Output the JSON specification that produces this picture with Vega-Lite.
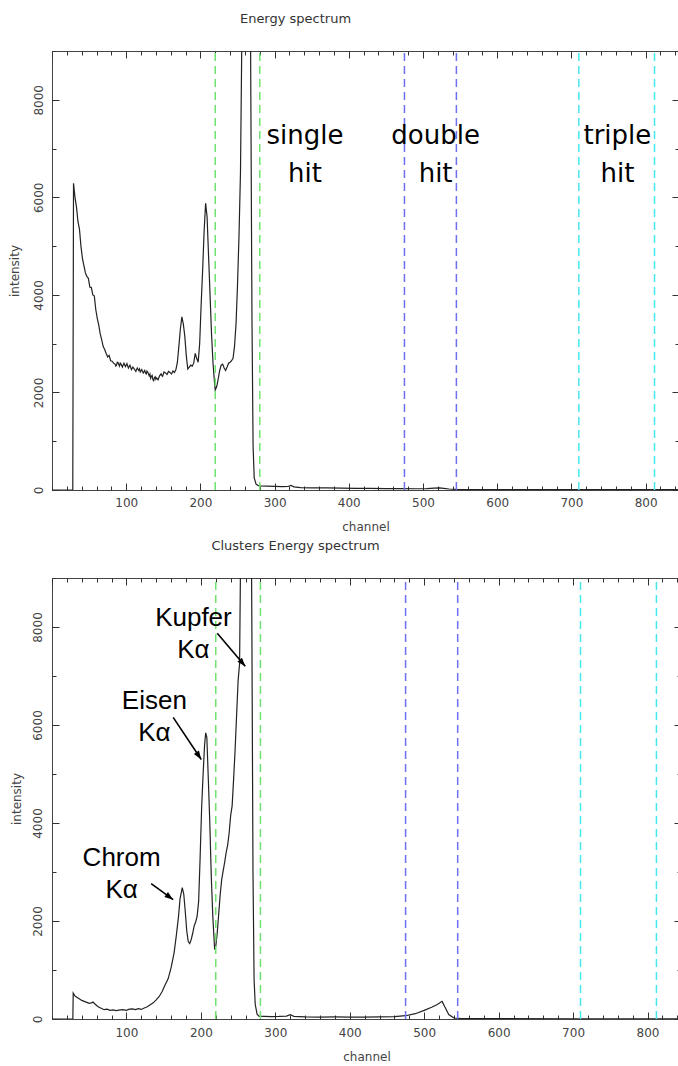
{
  "$schema": "https://vega.github.io/schema/vega-lite/v6.json",
  "background": "white",
  "padding": {"top": 12, "left": 7, "right": 0, "bottom": 0},
  "spacing": 6,
  "config": {
    "view": {"stroke": "#444", "strokeWidth": 1},
    "axis": {
      "grid": false, "domain": false,
      "labelFont": "DejaVu Sans", "labelFontSize": 12, "labelColor": "#444",
      "titleFont": "DejaVu Sans", "titleFontSize": 12, "titleFontWeight": "normal", "titleColor": "#444",
      "tickColor": "#333", "tickWidth": 1, "format": "d"
    },
    "title": {"font": "DejaVu Sans", "fontSize": 13, "fontWeight": "normal", "color": "#333", "anchor": "middle", "offset": 24}
  },
  "datasets": {
    "single": [
      {"ch": 0, "v": 0}, {"ch": 28, "v": 0}, {"ch": 29, "v": 6290}, {"ch": 31, "v": 6000}, {"ch": 33, "v": 5800},
      {"ch": 35, "v": 5500}, {"ch": 37, "v": 5350}, {"ch": 39, "v": 5000}, {"ch": 41, "v": 4750}, {"ch": 43, "v": 4600},
      {"ch": 45, "v": 4450}, {"ch": 47, "v": 4380}, {"ch": 49, "v": 4340}, {"ch": 51, "v": 4160}, {"ch": 53, "v": 4150},
      {"ch": 55, "v": 4000}, {"ch": 57, "v": 3980}, {"ch": 59, "v": 3700}, {"ch": 61, "v": 3520}, {"ch": 63, "v": 3380},
      {"ch": 65, "v": 3200}, {"ch": 67, "v": 3080}, {"ch": 69, "v": 2940}, {"ch": 71, "v": 2880}, {"ch": 73, "v": 2800},
      {"ch": 75, "v": 2730}, {"ch": 77, "v": 2760}, {"ch": 79, "v": 2650}, {"ch": 81, "v": 2640}, {"ch": 83, "v": 2600},
      {"ch": 85, "v": 2580}, {"ch": 86, "v": 2540}, {"ch": 87, "v": 2560}, {"ch": 88, "v": 2620}, {"ch": 89, "v": 2610}, {"ch": 91, "v": 2540}, {"ch": 92, "v": 2600}, {"ch": 93, "v": 2580},
      {"ch": 95, "v": 2520}, {"ch": 96, "v": 2570}, {"ch": 97, "v": 2600}, {"ch": 98, "v": 2560}, {"ch": 99, "v": 2530}, {"ch": 101, "v": 2590}, {"ch": 102, "v": 2540}, {"ch": 103, "v": 2500},
      {"ch": 105, "v": 2560}, {"ch": 106, "v": 2520}, {"ch": 107, "v": 2470}, {"ch": 109, "v": 2520}, {"ch": 110, "v": 2500}, {"ch": 111, "v": 2480}, {"ch": 113, "v": 2430},
      {"ch": 114, "v": 2470}, {"ch": 115, "v": 2500}, {"ch": 117, "v": 2450}, {"ch": 118, "v": 2480}, {"ch": 119, "v": 2420}, {"ch": 121, "v": 2470}, {"ch": 122, "v": 2430}, {"ch": 123, "v": 2400},
      {"ch": 125, "v": 2450}, {"ch": 126, "v": 2400}, {"ch": 127, "v": 2380}, {"ch": 128, "v": 2440}, {"ch": 129, "v": 2420}, {"ch": 131, "v": 2340}, {"ch": 132, "v": 2380}, {"ch": 133, "v": 2290},
      {"ch": 134, "v": 2330}, {"ch": 135, "v": 2350}, {"ch": 136, "v": 2260}, {"ch": 137, "v": 2240}, {"ch": 138, "v": 2300}, {"ch": 139, "v": 2320}, {"ch": 140, "v": 2270}, {"ch": 141, "v": 2300}, {"ch": 143, "v": 2260},
      {"ch": 145, "v": 2340}, {"ch": 147, "v": 2380}, {"ch": 148, "v": 2350}, {"ch": 149, "v": 2330}, {"ch": 151, "v": 2420}, {"ch": 153, "v": 2400},
      {"ch": 155, "v": 2370}, {"ch": 157, "v": 2430}, {"ch": 159, "v": 2410}, {"ch": 161, "v": 2380}, {"ch": 163, "v": 2440},
      {"ch": 165, "v": 2410}, {"ch": 167, "v": 2470}, {"ch": 169, "v": 2620}, {"ch": 171, "v": 2950}, {"ch": 173, "v": 3300},
      {"ch": 175, "v": 3550}, {"ch": 177, "v": 3400}, {"ch": 179, "v": 3150}, {"ch": 181, "v": 2750}, {"ch": 183, "v": 2480},
      {"ch": 185, "v": 2520}, {"ch": 187, "v": 2560}, {"ch": 189, "v": 2540}, {"ch": 191, "v": 2600}, {"ch": 193, "v": 2800},
      {"ch": 195, "v": 2700}, {"ch": 197, "v": 2620}, {"ch": 199, "v": 3000}, {"ch": 201, "v": 3800}, {"ch": 203, "v": 4500},
      {"ch": 205, "v": 5300}, {"ch": 207, "v": 5880}, {"ch": 209, "v": 5600}, {"ch": 211, "v": 4800}, {"ch": 213, "v": 4000},
      {"ch": 215, "v": 3200}, {"ch": 217, "v": 2600}, {"ch": 219, "v": 2200}, {"ch": 220, "v": 2050}, {"ch": 222, "v": 2120},
      {"ch": 224, "v": 2280}, {"ch": 226, "v": 2450}, {"ch": 228, "v": 2560}, {"ch": 230, "v": 2580}, {"ch": 232, "v": 2500},
      {"ch": 234, "v": 2450}, {"ch": 236, "v": 2520}, {"ch": 238, "v": 2600}, {"ch": 240, "v": 2620}, {"ch": 242, "v": 2650},
      {"ch": 244, "v": 2700}, {"ch": 246, "v": 2950}, {"ch": 248, "v": 3400}, {"ch": 250, "v": 4200}, {"ch": 252, "v": 5200},
      {"ch": 254, "v": 6500}, {"ch": 256, "v": 9500}, {"ch": 258, "v": 16000}, {"ch": 261, "v": 25000}, {"ch": 264, "v": 18000},
      {"ch": 266, "v": 14000}, {"ch": 268, "v": 8000}, {"ch": 269.5, "v": 3500}, {"ch": 271, "v": 900}, {"ch": 272.5, "v": 250},
      {"ch": 275, "v": 120}, {"ch": 278, "v": 90}, {"ch": 280, "v": 85}, {"ch": 290, "v": 80}, {"ch": 300, "v": 75},
      {"ch": 310, "v": 70}, {"ch": 318, "v": 72}, {"ch": 322, "v": 95}, {"ch": 326, "v": 65}, {"ch": 335, "v": 50},
      {"ch": 350, "v": 45}, {"ch": 370, "v": 42}, {"ch": 390, "v": 38}, {"ch": 410, "v": 35}, {"ch": 430, "v": 32},
      {"ch": 450, "v": 30}, {"ch": 470, "v": 28}, {"ch": 490, "v": 26}, {"ch": 505, "v": 30}, {"ch": 515, "v": 40},
      {"ch": 522, "v": 45}, {"ch": 528, "v": 35}, {"ch": 535, "v": 20}, {"ch": 545, "v": 12}, {"ch": 600, "v": 10},
      {"ch": 700, "v": 8}, {"ch": 845, "v": 6}
    ],
    "clusters": [
      {"ch": 0, "v": 0}, {"ch": 28, "v": 0}, {"ch": 28.5, "v": 530}, {"ch": 31, "v": 470}, {"ch": 35, "v": 430},
      {"ch": 40, "v": 380}, {"ch": 45, "v": 350}, {"ch": 50, "v": 320}, {"ch": 53, "v": 330}, {"ch": 55, "v": 345},
      {"ch": 58, "v": 300}, {"ch": 62, "v": 250}, {"ch": 66, "v": 220}, {"ch": 70, "v": 190}, {"ch": 74, "v": 200},
      {"ch": 78, "v": 175}, {"ch": 82, "v": 185}, {"ch": 86, "v": 170}, {"ch": 90, "v": 180}, {"ch": 95, "v": 190},
      {"ch": 100, "v": 175}, {"ch": 104, "v": 200}, {"ch": 108, "v": 205}, {"ch": 112, "v": 190}, {"ch": 116, "v": 210},
      {"ch": 120, "v": 195}, {"ch": 124, "v": 225}, {"ch": 128, "v": 250}, {"ch": 132, "v": 290}, {"ch": 136, "v": 330},
      {"ch": 140, "v": 390}, {"ch": 144, "v": 460}, {"ch": 148, "v": 560}, {"ch": 152, "v": 700}, {"ch": 156, "v": 820},
      {"ch": 160, "v": 1050}, {"ch": 164, "v": 1350}, {"ch": 167, "v": 1700}, {"ch": 170, "v": 2100}, {"ch": 172, "v": 2450},
      {"ch": 175, "v": 2680}, {"ch": 177, "v": 2550}, {"ch": 179, "v": 2200}, {"ch": 181, "v": 1800}, {"ch": 183, "v": 1580},
      {"ch": 185, "v": 1540}, {"ch": 187, "v": 1620}, {"ch": 189, "v": 1750}, {"ch": 191, "v": 1900}, {"ch": 193, "v": 1980},
      {"ch": 195, "v": 2100}, {"ch": 197, "v": 2400}, {"ch": 199, "v": 3300}, {"ch": 201, "v": 4300}, {"ch": 203, "v": 5000},
      {"ch": 205, "v": 5600}, {"ch": 206.5, "v": 5840}, {"ch": 208, "v": 5750}, {"ch": 210, "v": 4900}, {"ch": 212, "v": 4000},
      {"ch": 214, "v": 2900}, {"ch": 216, "v": 2100}, {"ch": 218.5, "v": 1420}, {"ch": 220, "v": 1480}, {"ch": 222, "v": 1760},
      {"ch": 224, "v": 2150}, {"ch": 226, "v": 2550}, {"ch": 228, "v": 2850}, {"ch": 230, "v": 3030}, {"ch": 232, "v": 3200},
      {"ch": 234, "v": 3400}, {"ch": 236, "v": 3550}, {"ch": 238, "v": 3800}, {"ch": 240, "v": 4150}, {"ch": 242, "v": 4350},
      {"ch": 244, "v": 4900}, {"ch": 246, "v": 5500}, {"ch": 248, "v": 6200}, {"ch": 250, "v": 6900}, {"ch": 252, "v": 7250},
      {"ch": 254, "v": 10500}, {"ch": 257, "v": 20000}, {"ch": 261, "v": 30000}, {"ch": 265, "v": 20000}, {"ch": 267, "v": 12000},
      {"ch": 268.5, "v": 8000}, {"ch": 270, "v": 3000}, {"ch": 271.5, "v": 800}, {"ch": 273, "v": 300}, {"ch": 275.5, "v": 100},
      {"ch": 278, "v": 60}, {"ch": 285, "v": 55}, {"ch": 295, "v": 50}, {"ch": 305, "v": 52}, {"ch": 315, "v": 60},
      {"ch": 320, "v": 88}, {"ch": 325, "v": 55}, {"ch": 340, "v": 45}, {"ch": 360, "v": 40}, {"ch": 380, "v": 42},
      {"ch": 400, "v": 38}, {"ch": 420, "v": 40}, {"ch": 440, "v": 42}, {"ch": 460, "v": 50}, {"ch": 475, "v": 67},
      {"ch": 488, "v": 108}, {"ch": 500, "v": 176}, {"ch": 510, "v": 240}, {"ch": 517, "v": 292}, {"ch": 524, "v": 360},
      {"ch": 528, "v": 240}, {"ch": 533, "v": 90}, {"ch": 540, "v": 20}, {"ch": 550, "v": 8}, {"ch": 600, "v": 6},
      {"ch": 700, "v": 5}, {"ch": 845, "v": 4}
    ],
    "windows": [
      {"ch": 220, "hit": "single"}, {"ch": 280, "hit": "single"},
      {"ch": 475, "hit": "double"}, {"ch": 545, "hit": "double"},
      {"ch": 710, "hit": "triple"}, {"ch": 812, "hit": "triple"}
    ],
    "hitLabels": [
      {"txt": "single\nhit", "ch": 341, "v": 7100},
      {"txt": "double\nhit", "ch": 517, "v": 7100},
      {"txt": "triple\nhit", "ch": 762, "v": 7100}
    ],
    "peakLabels": [
      {"txt": "Kupfer\nKα", "ch": 190, "v": 8020},
      {"txt": "Eisen\nKα", "ch": 137.5, "v": 6333},
      {"txt": "Chrom\nKα", "ch": 93.5, "v": 3132}
    ],
    "arrows": [
      {"name": "Kupfer", "ch": 222, "v": 7871, "ch2": 259.6, "v2": 7197},
      {"name": "Eisen", "ch": 162.8, "v": 6155, "ch2": 200.5, "v2": 5297},
      {"name": "Chrom", "ch": 133.2, "v": 2762, "ch2": 162.8, "v2": 2436}
    ]
  },
  "vconcat": [
    {
      "title": {"text": "Energy spectrum", "dx": -70},
      "width": 627,
      "height": 439,
      "resolve": {"axis": {"x": "independent", "y": "independent"}},
      "layer": [
        {
          "data": {"name": "single"},
          "mark": {"type": "line", "color": "#222", "strokeWidth": 1.2, "clip": true},
          "encoding": {
            "x": {"field": "ch", "type": "quantitative", "scale": {"domain": [0, 845], "nice": false, "zero": false},
              "axis": {"orient": "bottom", "values": [100, 200, 300, 400, 500, 600, 700, 800], "offset": -7, "tickSize": 7, "labelPadding": 7, "title": "channel", "titlePadding": 13}},
            "y": {"field": "v", "type": "quantitative", "scale": {"domain": [0, 9000], "nice": false},
              "axis": {"orient": "left", "values": [0, 2000, 4000, 6000, 8000], "offset": -7, "tickSize": 7, "labelAngle": 270, "labelAlign": "center", "labelBaseline": "bottom", "labelPadding": 7, "title": "intensity", "titlePadding": 11}}
          }
        },
        {
          "data": {"name": "windows"},
          "transform": [{"filter": "datum.hit === 'single'"}],
          "mark": {"type": "rule", "color": "#6fe36f", "strokeWidth": 1.5, "strokeDash": [8, 5]},
          "encoding": {
            "x": {"field": "ch", "type": "quantitative",
              "axis": {"orient": "bottom", "values": [0, 20, 40, 60, 80, 100, 120, 140, 160, 180, 200, 220, 240, 260, 280, 300, 320, 340, 360, 380, 400, 420, 440, 460, 480, 500, 520, 540, 560, 580, 600, 620, 640, 660, 680, 700, 720, 740, 760, 780, 800, 820, 840], "offset": -4, "tickSize": 4, "labels": false, "title": null}},
            "y": {"datum": 0, "type": "quantitative",
              "axis": {"orient": "left", "values": [0, 1000, 2000, 3000, 4000, 5000, 6000, 7000, 8000, 9000], "offset": -4, "tickSize": 4, "labels": false, "title": null}},
            "y2": {"datum": 9000}
          }
        },
        {
          "data": {"name": "windows"},
          "transform": [{"filter": "datum.hit === 'double'"}],
          "mark": {"type": "rule", "color": "#6f6ff2", "strokeWidth": 1.5, "strokeDash": [8, 5]},
          "encoding": {
            "x": {"field": "ch", "type": "quantitative",
              "axis": {"orient": "top", "values": [0, 100, 200, 300, 400, 500, 600, 700, 800], "offset": -7, "tickSize": 7, "labels": false, "title": null}},
            "y": {"datum": 0, "type": "quantitative",
              "axis": {"orient": "right", "values": [0, 2000, 4000, 6000, 8000], "offset": -7, "tickSize": 7, "labels": false, "title": null}},
            "y2": {"datum": 9000}
          }
        },
        {
          "data": {"name": "windows"},
          "transform": [{"filter": "datum.hit === 'triple'"}],
          "mark": {"type": "rule", "color": "#45e8ee", "strokeWidth": 1.5, "strokeDash": [8, 5]},
          "encoding": {
            "x": {"field": "ch", "type": "quantitative",
              "axis": {"orient": "top", "values": [0, 20, 40, 60, 80, 100, 120, 140, 160, 180, 200, 220, 240, 260, 280, 300, 320, 340, 360, 380, 400, 420, 440, 460, 480, 500, 520, 540, 560, 580, 600, 620, 640, 660, 680, 700, 720, 740, 760, 780, 800, 820, 840], "offset": -4, "tickSize": 4, "labels": false, "title": null}},
            "y": {"datum": 0, "type": "quantitative",
              "axis": {"orient": "right", "values": [0, 1000, 2000, 3000, 4000, 5000, 6000, 7000, 8000, 9000], "offset": -4, "tickSize": 4, "labels": false, "title": null}},
            "y2": {"datum": 9000}
          }
        },
        {
          "data": {"name": "hitLabels"},
          "mark": {"type": "text", "font": "DejaVu Sans", "fontSize": 26, "color": "#000", "align": "center", "baseline": "alphabetic", "lineBreak": "\n", "lineHeight": 38},
          "encoding": {
            "x": {"field": "ch", "type": "quantitative", "axis": null},
            "y": {"field": "v", "type": "quantitative", "axis": null},
            "text": {"field": "txt", "type": "nominal"}
          }
        }
      ]
    },
    {
      "title": {"text": "Clusters Energy spectrum", "dx": -71},
      "width": 629,
      "height": 441,
      "resolve": {"axis": {"x": "independent", "y": "independent"}},
      "layer": [
        {
          "data": {"name": "clusters"},
          "mark": {"type": "line", "color": "#222", "strokeWidth": 1.2, "clip": true},
          "encoding": {
            "x": {"field": "ch", "type": "quantitative", "scale": {"domain": [0, 845], "nice": false, "zero": false},
              "axis": {"orient": "bottom", "values": [100, 200, 300, 400, 500, 600, 700, 800], "offset": -7, "tickSize": 7, "labelPadding": 8, "title": "channel", "titlePadding": 13}},
            "y": {"field": "v", "type": "quantitative", "scale": {"domain": [0, 9000], "nice": false},
              "axis": {"orient": "left", "values": [0, 2000, 4000, 6000, 8000], "offset": -7, "tickSize": 7, "labelAngle": 270, "labelAlign": "center", "labelBaseline": "bottom", "labelPadding": 8, "title": "intensity", "titlePadding": 8}}
          }
        },
        {
          "data": {"name": "windows"},
          "transform": [{"filter": "datum.hit === 'single'"}],
          "mark": {"type": "rule", "color": "#6fe36f", "strokeWidth": 1.5, "strokeDash": [8, 5]},
          "encoding": {
            "x": {"field": "ch", "type": "quantitative",
              "axis": {"orient": "bottom", "values": [0, 20, 40, 60, 80, 100, 120, 140, 160, 180, 200, 220, 240, 260, 280, 300, 320, 340, 360, 380, 400, 420, 440, 460, 480, 500, 520, 540, 560, 580, 600, 620, 640, 660, 680, 700, 720, 740, 760, 780, 800, 820, 840], "offset": -4, "tickSize": 4, "labels": false, "title": null}},
            "y": {"datum": 0, "type": "quantitative",
              "axis": {"orient": "left", "values": [0, 1000, 2000, 3000, 4000, 5000, 6000, 7000, 8000, 9000], "offset": -4, "tickSize": 4, "labels": false, "title": null}},
            "y2": {"datum": 9000}
          }
        },
        {
          "data": {"name": "windows"},
          "transform": [{"filter": "datum.hit === 'double'"}],
          "mark": {"type": "rule", "color": "#6f6ff2", "strokeWidth": 1.5, "strokeDash": [8, 5]},
          "encoding": {
            "x": {"field": "ch", "type": "quantitative",
              "axis": {"orient": "top", "values": [0, 100, 200, 300, 400, 500, 600, 700, 800], "offset": -7, "tickSize": 7, "labels": false, "title": null}},
            "y": {"datum": 0, "type": "quantitative",
              "axis": {"orient": "right", "values": [0, 2000, 4000, 6000, 8000], "offset": -7, "tickSize": 7, "labels": false, "title": null}},
            "y2": {"datum": 9000}
          }
        },
        {
          "data": {"name": "windows"},
          "transform": [{"filter": "datum.hit === 'triple'"}],
          "mark": {"type": "rule", "color": "#45e8ee", "strokeWidth": 1.5, "strokeDash": [8, 5]},
          "encoding": {
            "x": {"field": "ch", "type": "quantitative",
              "axis": {"orient": "top", "values": [0, 20, 40, 60, 80, 100, 120, 140, 160, 180, 200, 220, 240, 260, 280, 300, 320, 340, 360, 380, 400, 420, 440, 460, 480, 500, 520, 540, 560, 580, 600, 620, 640, 660, 680, 700, 720, 740, 760, 780, 800, 820, 840], "offset": -4, "tickSize": 4, "labels": false, "title": null}},
            "y": {"datum": 0, "type": "quantitative",
              "axis": {"orient": "right", "values": [0, 1000, 2000, 3000, 4000, 5000, 6000, 7000, 8000, 9000], "offset": -4, "tickSize": 4, "labels": false, "title": null}},
            "y2": {"datum": 9000}
          }
        },
        {
          "data": {"name": "arrows"},
          "mark": {"type": "rule", "color": "#000", "strokeWidth": 1.6},
          "encoding": {
            "x": {"field": "ch", "type": "quantitative", "axis": null},
            "y": {"field": "v", "type": "quantitative", "axis": null},
            "x2": {"field": "ch2"},
            "y2": {"field": "v2"}
          }
        },
        {
          "data": {"name": "arrows"},
          "transform": [{"filter": "datum.name === 'Kupfer'"}],
          "mark": {"type": "point", "shape": "M0,0L-0.35,1L0.35,1Z", "filled": true, "color": "#000", "opacity": 1, "size": 300, "angle": 140},
          "encoding": {
            "x": {"field": "ch2", "type": "quantitative", "axis": null},
            "y": {"field": "v2", "type": "quantitative", "axis": null}
          }
        },
        {
          "data": {"name": "arrows"},
          "transform": [{"filter": "datum.name === 'Eisen'"}],
          "mark": {"type": "point", "shape": "M0,0L-0.35,1L0.35,1Z", "filled": true, "color": "#000", "opacity": 1, "size": 300, "angle": 146},
          "encoding": {
            "x": {"field": "ch2", "type": "quantitative", "axis": null},
            "y": {"field": "v2", "type": "quantitative", "axis": null}
          }
        },
        {
          "data": {"name": "arrows"},
          "transform": [{"filter": "datum.name === 'Chrom'"}],
          "mark": {"type": "point", "shape": "M0,0L-0.35,1L0.35,1Z", "filled": true, "color": "#000", "opacity": 1, "size": 300, "angle": 126},
          "encoding": {
            "x": {"field": "ch2", "type": "quantitative", "axis": null},
            "y": {"field": "v2", "type": "quantitative", "axis": null}
          }
        },
        {
          "data": {"name": "peakLabels"},
          "mark": {"type": "text", "font": "Liberation Sans", "fontSize": 26, "color": "#000", "align": "center", "baseline": "alphabetic", "lineBreak": "\n", "lineHeight": 32},
          "encoding": {
            "x": {"field": "ch", "type": "quantitative", "axis": null},
            "y": {"field": "v", "type": "quantitative", "axis": null},
            "text": {"field": "txt", "type": "nominal"}
          }
        }
      ]
    }
  ]
}
